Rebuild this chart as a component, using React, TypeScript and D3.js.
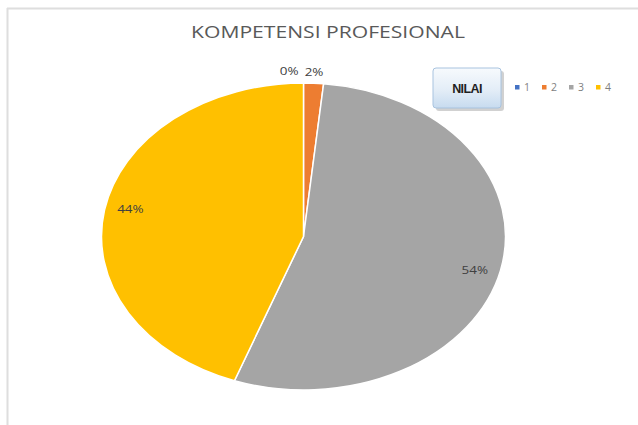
import React from "react";
import * as d3 from "d3";

// chart data
const categories = ["1", "2", "3", "4"];
const counts = [0, 1, 34, 28];
const percentLabels = ["0%", "2%", "54%", "44%"];
const colors = ["#4472C4", "#ED7D31", "#A5A5A5", "#FFC000"];

const title = "KOMPETENSI PROFESIONAL";
const legendTitle = "NILAI";

const W = 638;
const H = 425;
const cx = 303.5;
const cy = 236.5;
const rx = 202;
const ry = 153.5;
// the source picture is stretched sideways, text too
const stretch = 1.28;

export default function App() {
  const pieData = d3
    .pie<number>()
    .sort(null)
    .value((d) => d)(counts);

  const arc = d3.arc<d3.PieArcDatum<number>>().innerRadius(0).outerRadius(ry);

  // label position on the ellipse
  const labelPos = (d: d3.PieArcDatum<number>) => {
    const mid = (d.startAngle + d.endAngle) / 2;
    const frac = (d.endAngle - d.startAngle) / (2 * Math.PI);
    const outside = frac < 0.05;
    const kx = outside ? 1.05 : 0.87;
    const ky = outside ? 1.05 : 1.0;
    return {
      x: cx + Math.sin(mid) * rx * kx,
      y: cy - Math.cos(mid) * ry * ky,
      outside,
    };
  };

  return (
    <svg
      width={W}
      height={H}
      style={{ position: "absolute", left: 0, top: 0, background: "#fff" }}
      fontFamily="'Open Sans', sans-serif"
    >
      <defs>
        <linearGradient id="btn" x1="0" y1="0" x2="0" y2="1">
          <stop offset="0%" stopColor="#f7fafd" />
          <stop offset="55%" stopColor="#e3edf7" />
          <stop offset="100%" stopColor="#c7dbef" />
        </linearGradient>
      </defs>

      {/* chart frame */}
      <line x1={7} y1={8.5} x2={W} y2={8.5} stroke="#dedede" strokeWidth={2} />
      <line x1={7.5} y1={8} x2={7.5} y2={H} stroke="#dedede" strokeWidth={2} />

      <g transform={`translate(328,38) scale(${stretch},1)`}>
        <text x={0} y={0} textAnchor="middle" fontSize={16.5} fill="#595959">
          {title}
        </text>
      </g>

      {/* pie */}
      <g transform={`translate(${cx},${cy}) scale(${rx / ry},1)`}>
        {pieData.map((d, i) => (
          <path
            key={categories[i]}
            d={arc(d) || ""}
            fill={colors[i]}
            stroke="#ffffff"
            strokeWidth={1.5}
            vectorEffect="non-scaling-stroke"
          />
        ))}
      </g>

      {pieData.map((d, i) => {
        const p = labelPos(d);
        let anchor: "start" | "middle" | "end" = "middle";
        let x = p.x;
        if (p.outside && counts[i] === 0) {
          anchor = "end";
          x = p.x - 5;
        }
        return (
          <g key={"l" + i} transform={`translate(${x},${p.y + (p.outside ? 0 : 3.5)}) scale(${stretch},1)`}>
            <text x={0} y={0} textAnchor={anchor} fontSize={10.5} fill="#404040">
              {percentLabels[i]}
            </text>
          </g>
        );
      })}

      {/* legend button */}
      <rect x={436} y={71} width={68} height={40} rx={3} fill="#9a9a9a" opacity={0.45} />
      <rect x={433} y={68} width={68} height={40} rx={3} fill="url(#btn)" stroke="#a8c3df" strokeWidth={1} />
      <text
        x={467}
        y={92.5}
        textAnchor="middle"
        fontSize={12.5}
        fontWeight="bold"
        fontFamily="'Liberation Sans Narrow', 'Liberation Sans', sans-serif"
        letterSpacing={-0.6}
        fill="#1f1f1f"
      >
        {legendTitle}
      </text>

      {categories.map((c, i) => (
        <g key={"lg" + c} transform={`translate(${515 + i * 27},0)`}>
          <rect x={0} y={85} width={4.5} height={4.5} fill={colors[i]} />
          <text x={9} y={91} fontSize={10.5} fill="#7f7f7f">
            {c}
          </text>
        </g>
      ))}
    </svg>
  );
}
